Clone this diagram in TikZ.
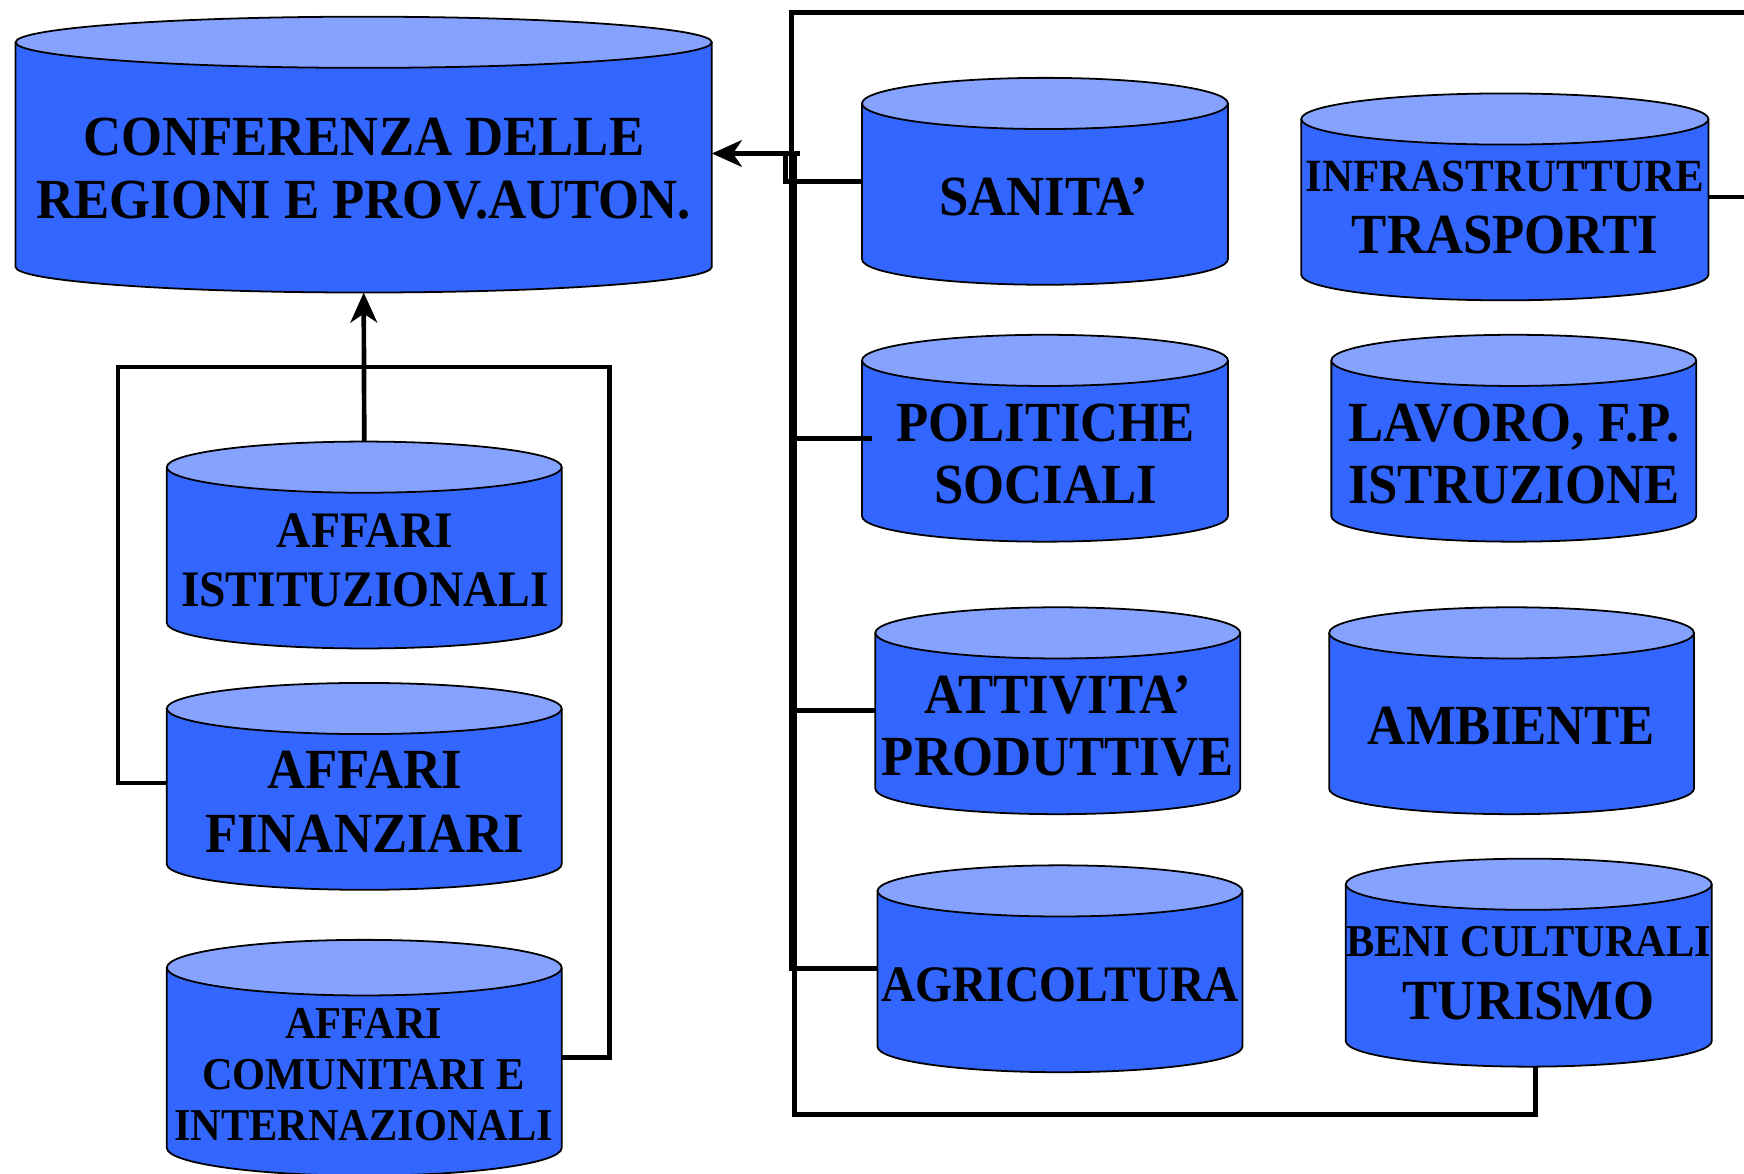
\documentclass[tikz,border=0pt]{standalone}
\usepackage{fontspec}
\newfontfamily\lab{Liberation Serif}[FakeStretch=0.93]
\usetikzlibrary{arrows.meta}
\definecolor{cylblue}{HTML}{3366FF}
\definecolor{cyltop}{HTML}{86A2FF}
\tikzset{
  cylbox/.style={inner sep=0pt, outer sep=0pt, draw=none, rectangle},
  body/.style={fill=cylblue},
  outline/.style={draw=black, line width=1.6pt},
  conn/.style={draw=black, line width=4.2pt},
  lbl/.style={inner sep=0pt, align=center, text=black},
  tip/.style={-{Stealth[length=27pt,width=24pt,inset=8pt]}},
}
\newcommand\F[2]{\lab\bfseries\fontsize{#1}{#2}\selectfont}
\newcommand\mycyl[6]{%
  \pgfmathsetmacro\cx{(#2+#3)/2}%
  \pgfmathsetmacro\rx{(#3-#2)/2}%
  \pgfmathsetmacro\cy{(#4+#5)/2}%
  \pgfmathsetmacro\hh{#5-#4}%
  \pgfmathsetmacro\ww{#3-#2}%
  \node[cylbox, minimum width=\ww pt, minimum height=\hh pt] (#1) at (\cx,\cy) {};%
  \path[body] (#2,#4+#6) -- (#2,#5-#6) arc[start angle=180, end angle=360, x radius=\rx pt, y radius=#6pt] -- (#3,#4+#6) -- cycle;%
  \draw[outline] (#2,#4+#6) -- (#2,#5-#6) arc[start angle=180, end angle=360, x radius=\rx pt, y radius=#6pt] -- (#3,#4+#6);%
  \draw[outline, fill=cyltop] (\cx,#4+#6) ellipse[x radius=\rx pt, y radius=#6pt];%
}
\begin{document}
\begin{tikzpicture}[x=1pt,y=-1pt]
\useasboundingbox (0,0) rectangle (1568,1055);
\begin{scope}
\clip (0,0) rectangle (1568,1055);
% cylinders
\mycyl{conf}{14}{640}{15}{263}{23}
\mycyl{istit}{150}{505}{397}{583}{23}
\mycyl{fin}{150}{505}{614}{800}{23}
\mycyl{com}{150}{505}{845}{1057}{25}
\mycyl{sanita}{775}{1104}{70}{256}{23}
\mycyl{infra}{1170}{1536}{84}{270}{23}
\mycyl{pol}{775}{1104}{301}{487}{23}
\mycyl{lav}{1197}{1525}{301}{487}{23}
\mycyl{att}{787}{1115}{546}{732}{23}
\mycyl{amb}{1195}{1523}{546}{732}{23}
\mycyl{agr}{789}{1117}{778}{964}{23}
\mycyl{beni}{1210}{1539}{772}{959}{23}
% labels
\node[lbl, font=\F{51}{57}] (conf-t) at (327,151.5) {CONFERENZA DELLE\\REGIONI E PROV.AUTON.};
\node[lbl, font=\F{46}{53}] (istit-t) at (328,503.5) {AFFARI\\ISTITUZIONALI};
\node[lbl, font=\F{51}{58}] (fin-t) at (328,721) {AFFARI\\FINANZIARI};
\node[lbl, font=\F{41}{46}] (com-t) at (327,966.5) {AFFARI\\COMUNITARI E\\INTERNAZIONALI};
\node[lbl, font=\F{51}{56}] (sanita-t) at (938.5,177) {SANITA’};
\node[lbl, font=\F{51}{56}] (infra-t) at (1353,186.5) {{\fontsize{41.5}{46}\selectfont INFRASTRUTTURE}\\TRASPORTI};
\node[lbl, font=\F{51}{56}] (pol-t) at (940,408) {POLITICHE\\SOCIALI};
\node[lbl, font=\F{51}{56}] (lav-t) at (1361,408) {LAVORO, F.P.\\ISTRUZIONE};
\node[lbl, font=\F{51}{56}] (att-t) at (951,653) {ATTIVITA’\\PRODUTTIVE};
\node[lbl, font=\F{51}{56}] (amb-t) at (1359,653) {AMBIENTE};
\node[lbl, font=\F{46}{52}] (agr-t) at (953,885) {AGRICOLTURA};
\node[lbl, font=\F{51}{56}] (beni-t) at (1374.5,875) {{\fontsize{41}{44}\selectfont BENI CULTURALI}\\TURISMO};
% left connectors
\coordinate (lt) at (106,330);
\coordinate (rt) at (548,330);
\draw[conn, tip] (istit.north) -- (conf.south);
\draw[conn] ([yshift=3pt]fin.west) -| (lt) -- (rt) |- (com.east);
% right connectors
\coordinate (topR) at (1600,11);
\coordinate (topL) at (711.5,11);
\coordinate (jS) at (706,138);
\coordinate (jE) at (719,138);
\coordinate (jBus) at (714.5,136);
\coordinate (bBus) at (714.5,1002);
\draw[conn] (infra.east) -| (topR) -- (topL) |- (agr.west);
\draw[conn] (sanita.west) -| (jS);
\draw[conn, tip] (jE) -- (jE -| conf.east);
\draw[conn] (jBus) -- (bBus) -| ([xshift=6pt]beni.south);
\draw[conn] ([xshift=9pt]pol.west) -- (pol.west -| jBus);
\draw[conn] (att.west) -- (att.west -| jBus);
\end{scope}
\end{tikzpicture}
\end{document}
